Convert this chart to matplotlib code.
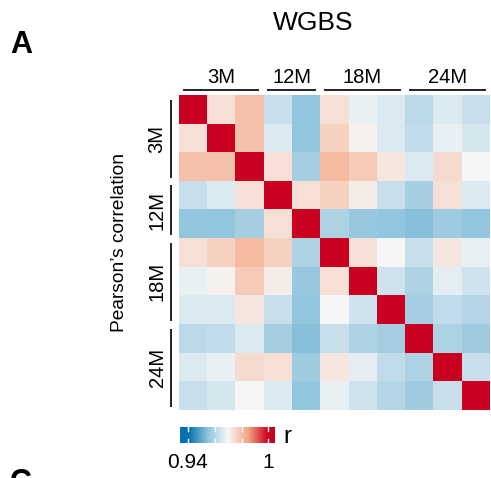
import numpy as np
import matplotlib
matplotlib.use("Agg")
import matplotlib.pyplot as plt
from matplotlib.colors import LinearSegmentedColormap, Normalize

plt.rcParams['font.family'] = ['Liberation Sans', 'DejaVu Sans']

title = "WGBS"
groups = ["3M", "12M", "18M", "24M"]
group_sizes = [3, 2, 3, 3]
cbar_label = "r"
cbar_ticklabels = ["0.94", "1"]
vmin, vmid, vmax = 0.94, 0.97, 1.0

corr = [
    [1.000, 0.974, 0.980, 0.963, 0.955, 0.974, 0.968, 0.966, 0.961, 0.966, 0.963],
    [0.974, 1.000, 0.980, 0.966, 0.955, 0.977, 0.971, 0.966, 0.962, 0.968, 0.965],
    [0.980, 0.980, 1.000, 0.974, 0.958, 0.981, 0.978, 0.973, 0.966, 0.975, 0.970],
    [0.963, 0.966, 0.974, 1.000, 0.974, 0.977, 0.972, 0.963, 0.958, 0.974, 0.966],
    [0.955, 0.955, 0.958, 0.974, 1.000, 0.959, 0.956, 0.955, 0.954, 0.957, 0.955],
    [0.974, 0.977, 0.981, 0.977, 0.959, 1.000, 0.974, 0.970, 0.963, 0.973, 0.968],
    [0.968, 0.971, 0.978, 0.972, 0.956, 0.974, 1.000, 0.964, 0.959, 0.967, 0.964],
    [0.966, 0.966, 0.973, 0.963, 0.955, 0.970, 0.964, 1.000, 0.958, 0.962, 0.960],
    [0.961, 0.962, 0.966, 0.958, 0.954, 0.963, 0.959, 0.958, 1.000, 0.959, 0.957],
    [0.966, 0.968, 0.975, 0.974, 0.957, 0.973, 0.967, 0.962, 0.959, 1.000, 0.963],
    [0.963, 0.965, 0.970, 0.966, 0.955, 0.968, 0.964, 0.960, 0.957, 0.963, 1.000],
]

W, H = 491, 478
fig = plt.figure(figsize=(W / 100, H / 100), dpi=100)

def fx(px):
    return px / W

def fy(py):
    return 1 - py / H

cmap = LinearSegmentedColormap.from_list(
    "rb", [(0.0, "#0571B0"), (0.25, "#92C5DE"), (0.5, "#F7F7F7"),
           (0.75, "#F4A582"), (1.0, "#CA0020")])
norm = Normalize(vmin, vmax, clip=True)

# heatmap
hx0, hx1, hy0, hy1 = 179, 490, 95, 410
ax = fig.add_axes([fx(hx0), fy(hy1), fx(hx1 - hx0), (hy1 - hy0) / H])
data = np.array(corr)
n = data.shape[0]
ax.imshow(data, cmap=cmap, norm=norm, aspect='auto', interpolation='nearest',
          extent=(0, n, n, 0))
ax.set_xlim(0, n)
ax.set_ylim(n, 0)
ax.axis('off')

cw = (hx1 - hx0) / n
ch = (hy1 - hy0) / n
start = 0
for g, s in zip(groups, group_sizes):
    # top annotation
    x0 = hx0 + start * cw + 4.5
    x1 = hx0 + (start + s) * cw - 5.5
    fig.add_artist(plt.Line2D([fx(x0), fx(x1)], [fy(90), fy(90)], color="#222222", lw=1.4))
    fig.text(fx((x0 + x1) / 2), fy(83), g, ha='center', va='baseline', fontsize=14.5)
    # left annotation
    y0 = hy0 + start * ch + 5.5
    y1 = hy0 + (start + s) * ch - 4
    fig.add_artist(plt.Line2D([fx(170.7), fx(170.7)], [fy(y0), fy(y1)], color="#222222", lw=1.4))
    fig.text(fx(157), fy((y0 + y1) / 2), g, ha='center', va='center', rotation=90,
             fontsize=14.5)
    start += s

fig.text(fx(120), fy(242), "Pearson\u2019s correlation", rotation=90,
         ha='center', va='center', fontsize=13.8)
fig.text(fx(313), fy(29.5), title, ha='center', va='baseline', fontsize=19)
fig.text(fx(10), fy(53), "A", ha='left', va='baseline', fontsize=22, fontweight='bold')
fig.text(fx(10), fy(468), "C", ha='left', va='top', fontsize=22, fontweight='bold')

# colorbar legend
bx0, bx1, by0, by1 = 180, 275, 427, 443
cax = fig.add_axes([fx(bx0), fy(by1), fx(bx1 - bx0), (by1 - by0) / H])
v0, v1 = 0.934, 1.005
grad = np.linspace(v0, v1, 256).reshape(1, -1)
cax.imshow(grad, cmap=cmap, norm=norm, aspect='auto', extent=(v0, v1, 0, 1))
cax.set_xlim(v0, v1)
cax.set_ylim(0, 1)
cax.axis('off')
for t in [0.94, 0.96, 0.98, 1.0]:
    cax.plot([t, t], [0, 0.28], color='white', lw=1.0)
    cax.plot([t, t], [0.72, 1], color='white', lw=1.0)
tick_px = [188, 268]
for tp, lab in zip(tick_px, cbar_ticklabels):
    fig.text(fx(tp), fy(468), lab, ha='center', va='baseline', fontsize=15)
fig.text(fx(283), fy(443), cbar_label, ha='left', va='baseline', fontsize=17.5)

fig.savefig("out.png", dpi=100)
